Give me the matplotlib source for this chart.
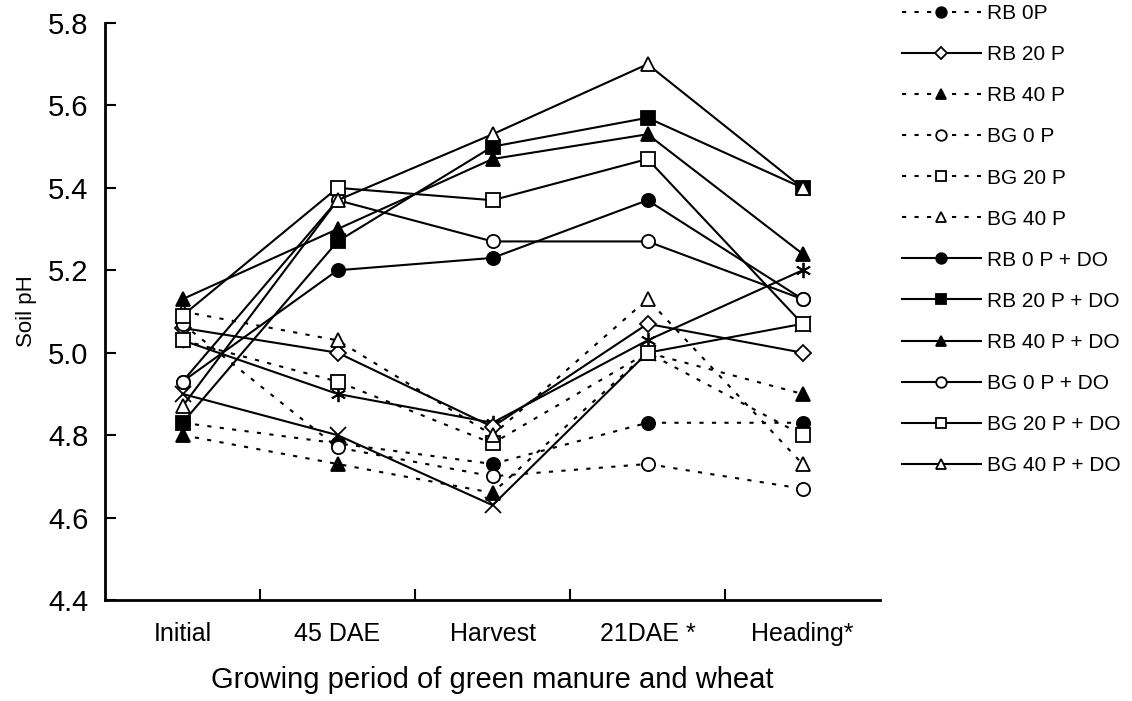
import matplotlib
matplotlib.use("Agg")
import matplotlib.pyplot as plt
from matplotlib.ticker import FixedLocator, FormatStrFormatter

plt.rcParams['font.family'] = ['Liberation Sans', 'DejaVu Sans']

stages = ["Initial", "45 DAE", "Harvest", "21DAE *", "Heading*"]

# dotted series (no organic amendment)
rb_0p = [4.83, 4.78, 4.73, 4.83, 4.83]
rb_20p = [5.06, 5.00, 4.82, 5.07, 5.00]
rb_40p = [4.80, 4.73, 4.66, 5.00, 4.90]
bg_0p = [5.07, 4.77, 4.70, 4.73, 4.67]
bg_20p = [5.03, 4.93, 4.78, 5.00, 4.80]
bg_40p = [5.10, 5.03, 4.80, 5.13, 4.73]

# solid series (with DO)
rb_0p_do = [4.93, 5.20, 5.23, 5.37, 5.13]
rb_20p_do = [4.83, 5.27, 5.50, 5.57, 5.40]
rb_40p_do = [5.13, 5.30, 5.47, 5.53, 5.24]
bg_0p_do = [4.93, 5.37, 5.27, 5.27, 5.13]
bg_20p_do = [5.09, 5.40, 5.37, 5.47, 5.07]
bg_40p_do = [4.87, 5.37, 5.53, 5.70, 5.40]

# two extra series shown without a legend entry
extra_star = [5.03, 4.90, 4.83, 5.03, 5.20]
extra_x = [4.90, 4.80, 4.63, 5.00, 5.07]

dots = (0, (2, 4))
series = [
    ("RB 0P", rb_0p, dots, "o", "black"),
    ("RB 20 P", rb_20p, "-", "D", "white"),
    ("RB 40 P", rb_40p, dots, "^", "black"),
    ("BG 0 P", bg_0p, dots, "o", "white"),
    ("BG 20 P", bg_20p, dots, "s", "white"),
    ("BG 40 P", bg_40p, dots, "^", "white"),
    ("RB 0 P + DO", rb_0p_do, "-", "o", "black"),
    ("RB 20 P + DO", rb_20p_do, "-", "s", "black"),
    ("RB 40 P + DO", rb_40p_do, "-", "^", "black"),
    ("BG 0 P + DO", bg_0p_do, "-", "o", "white"),
    ("BG 20 P + DO", bg_20p_do, "-", "s", "white"),
    ("BG 40 P + DO", bg_40p_do, "-", "^", "white"),
]

fig = plt.figure(figsize=(11.32, 7.01), dpi=100)
ax = fig.add_axes([0.0928, 0.1441, 0.6846, 0.8231])

x = list(range(len(stages)))

ax.plot(x, extra_star, "-", color="black", lw=1.5, marker=(6, 2, 0),
        markersize=11, markeredgewidth=1.3)
ax.plot(x, extra_x, "-", color="black", lw=1.5, marker="x",
        markersize=11, markeredgewidth=1.3)

for label, vals, ls, mk, fc in series:
    ms = 8 if mk == "D" else 9.5
    ax.plot(x, vals, linestyle=ls, color="black", lw=1.5, marker=mk,
            markersize=ms, markerfacecolor=fc, markeredgecolor="black",
            markeredgewidth=1.3, label=label)

ax.set_xlim(-0.5, 4.5)
ax.set_ylim(4.4, 5.8)
ax.set_yticks([4.4, 4.6, 4.8, 5.0, 5.2, 5.4, 5.6, 5.8])
ax.yaxis.set_major_formatter(FormatStrFormatter("%.1f"))
ax.set_xticks(x)
ax.set_xticklabels(stages)
ax.xaxis.set_minor_locator(FixedLocator([0.5, 1.5, 2.5, 3.5]))

ax.tick_params(axis="y", direction="in", length=8, width=1.5, pad=12,
               labelsize=21)
ax.tick_params(axis="x", which="major", length=0, pad=16, labelsize=18)
ax.tick_params(axis="x", which="minor", direction="in", length=8, width=1.5)

for side in ["top", "right"]:
    ax.spines[side].set_visible(False)
for side in ["left", "bottom"]:
    ax.spines[side].set_linewidth(2)

ax.set_xlabel("Growing period of green manure and wheat", fontsize=21,
              labelpad=14)
ax.set_ylabel("Soil pH", fontsize=16, labelpad=8)

ax.legend(loc="upper left", bbox_to_anchor=(0.793, 1.0),
          bbox_transform=fig.transFigure, frameon=False, fontsize=15,
          handlelength=3.8, labelspacing=1.06, handletextpad=0.3,
          borderaxespad=0, borderpad=0.2, markerscale=0.8)

fig.savefig("out.png", dpi=100)
